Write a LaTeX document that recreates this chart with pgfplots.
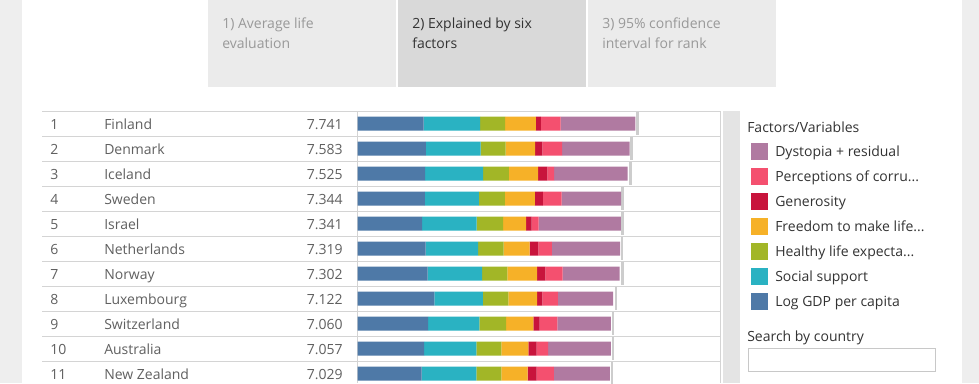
\documentclass[border=0pt]{standalone}
\usepackage{pgfplots}
\usepackage{pgfplotstable}
\pgfplotsset{compat=1.18}
\usepackage{fontspec}
\setmainfont{Open Sans}
\newcommand\tdots{...}

\definecolor{cDys}{HTML}{B07AA1}
\definecolor{cCor}{HTML}{F4506F}
\definecolor{cGen}{HTML}{C8143C}
\definecolor{cFre}{HTML}{F6B128}
\definecolor{cHea}{HTML}{A2B627}
\definecolor{cSoc}{HTML}{2AB2C2}
\definecolor{cGDP}{HTML}{4E79A7}
\definecolor{bgG}{HTML}{EEEEEE}
\definecolor{tabL}{HTML}{EBEBEB}
\definecolor{tabD}{HTML}{D9D9D9}
\definecolor{gridG}{HTML}{D4D4D4}
\definecolor{txtG}{HTML}{606060}
\definecolor{txtD}{HTML}{333333}
\definecolor{txtL}{HTML}{999999}
\definecolor{ciG}{HTML}{CDCDCD}
\definecolor{stripG}{HTML}{E4E4E4}
\definecolor{boxG}{HTML}{C8C8C8}

\pgfplotstableread{
rk  gdp   soc   hea   fre   gen   cor   dys   ci
1   1.844 1.572 0.695 0.859 0.142 0.546 2.083 7.80
2   1.908 1.520 0.699 0.823 0.204 0.548 1.881 7.64
3   1.881 1.617 0.718 0.819 0.258 0.182 2.050 7.60
4   1.878 1.501 0.724 0.838 0.221 0.524 1.658 7.38
5   1.803 1.513 0.740 0.641 0.153 0.193 2.298 7.39
6   1.901 1.462 0.706 0.725 0.247 0.372 1.906 7.37
7   1.952 1.517 0.704 0.835 0.224 0.484 1.586 7.38
8   2.141 1.355 0.708 0.801 0.146 0.432 1.539 7.20
9   1.970 1.425 0.747 0.759 0.173 0.498 1.488 7.12
10  1.854 1.461 0.692 0.756 0.225 0.323 1.746 7.12
11  1.790 1.520 0.700 0.730 0.250 0.480 1.559 7.09
}\data

\begin{document}
\begin{tikzpicture}
\begin{scope}[x=0.75pt,y=-0.75pt]
\useasboundingbox (0,0) rectangle (979,383);
\coordinate (A) at (357.5,111);
\fill[white] (0,0) rectangle (979,383);
\fill[bgG] (0,0) rectangle (22,383);
\fill[bgG] (962,0) rectangle (979,383);
% tabs
\fill[tabL] (208,0) rectangle (396,87);
\fill[tabD] (398,0) rectangle (586,87);
\fill[tabL] (588,0) rectangle (776,87);
\begin{scope}[every node/.style={anchor=base west, inner sep=0pt, font=\fontsize{10.5}{12}\selectfont}]
\node[text=txtL] at (222,28) {1) Average life};
\node[text=txtL] at (222,48) {evaluation};
\node[text=txtD] at (412,28) {2) Explained by six};
\node[text=txtD] at (412,48) {factors};
\node[text=txtL] at (602,28) {3) 95\% confidence};
\node[text=txtL] at (602,48) {interval for rank};
\end{scope}
% grid
\foreach \k in {0,...,10} { \draw[gridG, line width=0.75pt] (42,111+25*\k) -- (720,111+25*\k); }
\draw[gridG, line width=0.75pt] (357.5,111) -- (357.5,383);
\draw[gridG, line width=0.75pt] (720,111) -- (720,383);
% legend panel strip
\fill[stripG] (723,111) rectangle (740,383);
% row text
\begin{scope}[every node/.style={inner sep=0pt, text=txtG, font=\fontsize{10.5}{12}\selectfont}]
\foreach \r/\c/\s in {1/Finland/7.741, 2/Denmark/7.583, 3/Iceland/7.525, 4/Sweden/7.344, 5/Israel/7.341, 6/Netherlands/7.319, 7/Norway/7.302, 8/Luxembourg/7.122, 9/Switzerland/7.060, 10/Australia/7.057, 11/New Zealand/7.029} {
  \node[anchor=base west] at (50,104+25*\r) {\r};
  \node[anchor=base west] at (104,104+25*\r) {\c};
  \node[anchor=base east] at (343,104+25*\r) {\s};
}
\end{scope}
% legend
\begin{scope}[every node/.style={anchor=base west, inner sep=0pt, text=txtD, font=\fontsize{10.5}{12}\selectfont}]
\node at (747,132) {Factors/Variables};
\foreach \col/\lab [count=\i] in {cDys/{Dystopia + residual}, cCor/{Perceptions of corru\tdots}, cGen/{Generosity}, cFre/{Freedom to make life\tdots}, cHea/{Healthy life expecta\tdots}, cSoc/{Social support}, cGDP/{Log GDP per capita}} {
  \fill[\col] (751,142.5+25*\i-25) rectangle (768,159.5+25*\i-25);
  \node at (775,156+25*\i-25) {\lab};
}
\node at (747,341) {Search by country};
\end{scope}
\draw[draw=boxG, fill=white, line width=0.75pt] (748.5,348.5) rectangle (935.5,371.5);
\end{scope}
\begin{scope}
\clip (0,0) rectangle (734.25pt,-287.25pt);
% CI marks
\begin{axis}[at={(A)}, anchor=north west, scale only axis,
  width=271.875pt, height=206.25pt, xmin=0, xmax=10.1, ymin=0.5, ymax=11.5,
  y dir=reverse, hide axis]
\addplot[only marks, mark=|, mark size=8.8pt, mark options={draw=ciG, line width=2pt}] table[x=ci, y=rk]{\data};
\end{axis}
% bars
\begin{axis}[at={(A)}, anchor=north west, scale only axis,
  width=271.875pt, height=206.25pt, xmin=0, xmax=10.1, ymin=0.5, ymax=11.5,
  y dir=reverse, hide axis, xbar stacked, bar width=10.5pt]
\addplot[fill=cGDP, draw=none] table[x=gdp, y=rk]{\data};
\addplot[fill=cSoc, draw=none] table[x=soc, y=rk]{\data};
\addplot[fill=cHea, draw=none] table[x=hea, y=rk]{\data};
\addplot[fill=cFre, draw=none] table[x=fre, y=rk]{\data};
\addplot[fill=cGen, draw=none] table[x=gen, y=rk]{\data};
\addplot[fill=cCor, draw=none] table[x=cor, y=rk]{\data};
\addplot[fill=cDys, draw=none] table[x=dys, y=rk]{\data};
\end{axis}
\end{scope}
\end{tikzpicture}
\end{document}
